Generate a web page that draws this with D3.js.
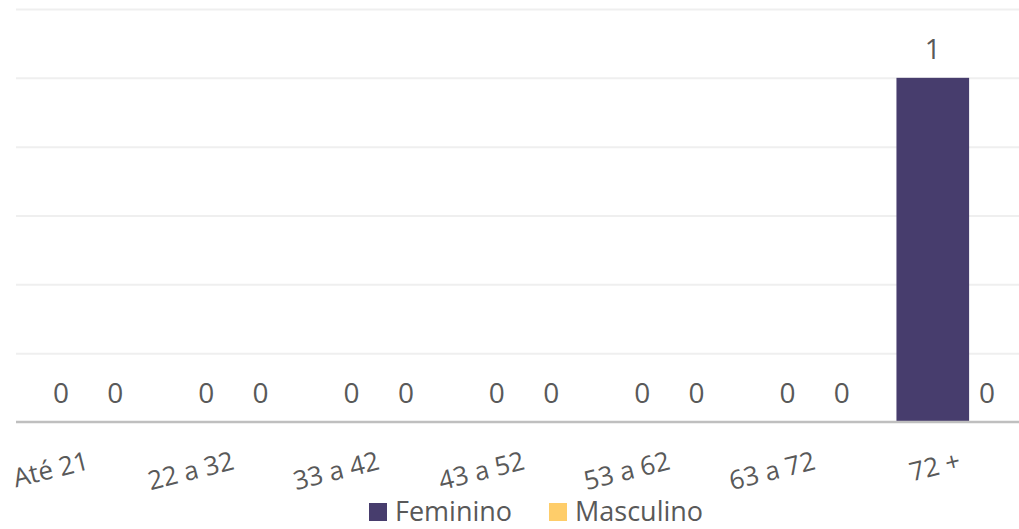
<!DOCTYPE html>
<html>
<head>
<meta charset="utf-8">
<script src="https://cdn.jsdelivr.net/npm/d3@7"></script>
<style>
  body { margin: 0; background: #fff; }
  svg text { font-family: "Open Sans", sans-serif; fill: #595959; }
</style>
</head>
<body>
<div id="chart"></div>
<script>
var w = 1019,
    h = 529;

// data
var categories = ['Até 21', '22 a 32', '33 a 42', '43 a 52', '53 a 62', '63 a 72', '72 +'];
var series = ['Feminino', 'Masculino'];
var feminino = [0, 0, 0, 0, 0, 0, 1];
var masculino = [0, 0, 0, 0, 0, 0, 0];
var gridTicks = [0.2, 0.4, 0.6, 0.8, 1.0, 1.2];
var colors = { Feminino: '#473d6d', Masculino: '#fecd6a' };

var values = { Feminino: feminino, Masculino: masculino };

var svg = d3.select('#chart').append('svg')
  .attr('width', w)
  .attr('height', h);

var x0 = d3.scaleBand()
  .domain(categories)
  .range([15.5, 1032.6]);

// centre offsets of the two series inside a group
var x1 = d3.scalePoint()
  .domain(series)
  .range([-x0.bandwidth() * 0.187, x0.bandwidth() * 0.187]);

var barW = x0.bandwidth() * 0.5;

var y = d3.scaleLinear()
  .domain([0, 1.2])
  .range([422, 9]);

// gridlines
svg.append('g')
  .attr('transform', 'translate(16,0)')
  .call(d3.axisLeft(y).tickValues(gridTicks).tickSize(-(w - 16)).tickFormat(''))
  .call(function(g) {
    g.select('.domain').remove();
    g.selectAll('line').attr('stroke', '#efefef').attr('stroke-width', 2);
  });

// bars + labels, one group per series
series.forEach(function(s) {
  var rows = categories.map(function(c, i) { return { cat: c, v: values[s][i] }; });

  svg.selectAll('rect.' + s)
    .data(rows)
    .enter().append('rect')
    .attr('class', s)
    .attr('x', function(d) { return x0(d.cat) + x0.bandwidth() / 2 + x1(s) - barW / 2; })
    .attr('y', function(d) { return y(d.v); })
    .attr('width', barW)
    .attr('height', function(d) { return y(0) - y(d.v); })
    .attr('fill', colors[s]);

  svg.selectAll('text.lbl-' + s)
    .data(rows)
    .enter().append('text')
    .attr('class', 'lbl-' + s)
    .attr('x', function(d) { return x0(d.cat) + x0.bandwidth() / 2 + x1(s); })
    .attr('y', function(d) { return y(d.v) - 19; })
    .attr('text-anchor', 'middle')
    .style('font-size', '28px')
    .text(function(d) { return d.v; });
});

// x axis
svg.append('g')
  .attr('transform', 'translate(0,' + y(0) + ')')
  .call(d3.axisBottom(x0).tickSize(0))
  .call(function(g) {
    g.select('.domain').attr('stroke', '#bfbfbf').attr('stroke-width', 2.5)
      .attr('d', 'M16,0H' + w);
    g.selectAll('text')
      .attr('y', null).attr('dy', null)
      .attr('text-anchor', 'end')
      .attr('transform', 'translate(2,47) rotate(-14)')
      .style('font-size', '26px')
      .style('font-family', '"Open Sans", sans-serif')
      .attr('fill', '#595959');
  });

// legend
var legendX = [369, 549];
var legend = svg.selectAll('g.legend')
  .data(series)
  .enter().append('g')
  .attr('class', 'legend')
  .attr('transform', function(d, i) { return 'translate(' + legendX[i] + ',503)'; });

legend.append('rect')
  .attr('width', 18)
  .attr('height', 18)
  .attr('fill', function(d) { return colors[d]; });

legend.append('text')
  .attr('x', 26)
  .attr('y', 18)
  .style('font-size', '27px')
  .text(function(d) { return d; });
</script>
</body>
</html>
